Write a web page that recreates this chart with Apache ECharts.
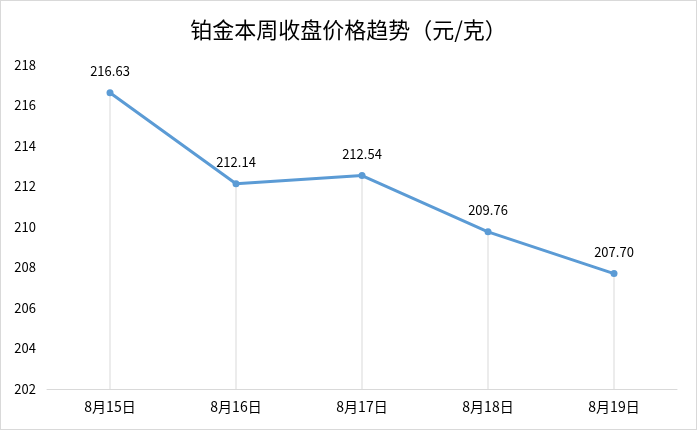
<!DOCTYPE html>
<html><head><meta charset="utf-8">
<script src="https://cdn.jsdelivr.net/npm/echarts@6/dist/echarts.min.js"></script>
<style>html,body{margin:0;padding:0;background:#fff}#c{width:697px;height:430px;box-sizing:border-box;border:1px solid #d9d9d9}</style>
</head><body><div id="c"></div>
<script>
const categories = ['8月15日','8月16日','8月17日','8月18日','8月19日'];
const prices = [216.63, 212.14, 212.54, 209.76, 207.70];
const titleText = '铂金本周收盘价格趋势（元/克）';
const yMin = 202, yMax = 218, yStep = 2;

const chart = echarts.init(document.getElementById('c'), null, {renderer:'canvas'});
const font = '"Noto Sans CJK SC", "Noto Sans", sans-serif';
chart.setOption({
  animation: false,
  title: {text: titleText, left: 'center', top: 13,
    textStyle: {fontFamily: font, fontSize: 22, fontWeight: 'normal', color: '#000'}},
  grid: {left: 46, right: 19, top: 64, bottom: 40},
  xAxis: {type: 'category', data: categories, boundaryGap: true,
    axisLine: {lineStyle: {color: '#d9d9d9'}}, axisTick: {show: false},
    axisLabel: {color: '#000', fontFamily: font, fontSize: 14, margin: 11}},
  yAxis: {type: 'value', min: yMin, max: yMax, interval: yStep,
    splitLine: {show: false}, axisLine: {show: false}, axisTick: {show: false},
    axisLabel: {color: '#000', fontFamily: font, fontSize: 13, margin: 11}},
  series: [
    {type: 'bar', data: prices, barWidth: 1, itemStyle: {color: '#d9d9d9'}, silent: true, z: 1},
    {type: 'line', data: prices, symbol: 'circle', symbolSize: 7, z: 3,
      lineStyle: {color: '#5b9bd5', width: 3}, itemStyle: {color: '#5b9bd5'},
      label: {show: true, position: 'top', distance: 12, color: '#000', fontFamily: font, fontSize: 13,
        formatter: p => p.value.toFixed(2)}}
  ]
});
</script></body></html>
